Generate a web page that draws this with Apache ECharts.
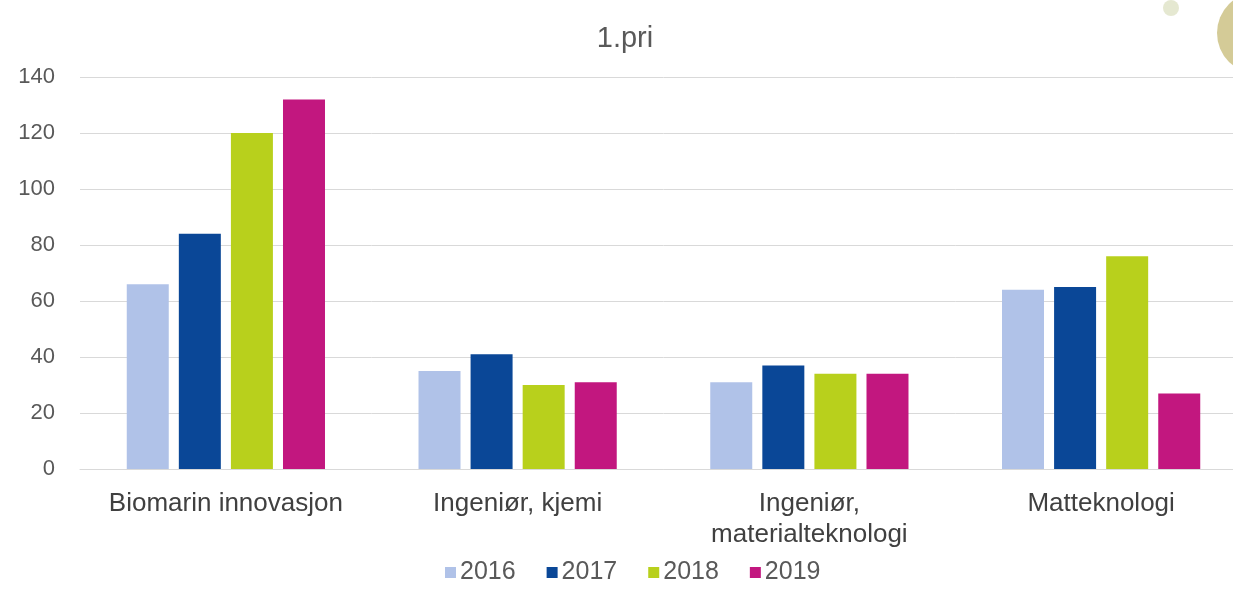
<!DOCTYPE html>
<html>
<head>
<meta charset="utf-8">
<script src="https://cdn.jsdelivr.net/npm/echarts@6/dist/echarts.min.js"></script>
<style>
  html, body { margin: 0; padding: 0; background: #fff; overflow: hidden; }
  /* diagrammet er beskåret til høyre i originalen, derfor bredere enn vinduet */
  #chart { width: 1250px; height: 592px; }
</style>
</head>
<body>
<div id="chart"></div>
<script>
// kategorier (studieprogram)
const categories = ['Biomarin innovasjon', 'Ingeniør, kjemi', 'Ingeniør,\nmaterialteknologi', 'Matteknologi'];
const years = ['2016', '2017', '2018', '2019'];

// antall 1.prioritetssøkere per år
const values2016 = [66, 35, 31, 64];
const values2017 = [84, 41, 37, 65];
const values2018 = [120, 30, 34, 76];
const values2019 = [132, 31, 34, 27];

const yearColors = ['#b0c2e8', '#0a4797', '#b8d01c', '#c2177f'];

const chart = echarts.init(document.getElementById('chart'));

const seriesData = [values2016, values2017, values2018, values2019];

const option = {
  animation: false,
  textStyle: { fontFamily: 'Liberation Sans, Arial, sans-serif' },
  title: {
    text: '1.pri',
    left: 'center',
    top: 19,
    textStyle: { fontSize: 29, fontWeight: 'normal', color: '#595959' }
  },
  legend: {
    data: years,
    bottom: 2,
    left: 440,
    itemWidth: 11,
    itemHeight: 11,
    itemGap: 31,
    icon: 'rect',
    textStyle: { fontSize: 25, color: '#595959', padding: [0, 0, 0, -1] }
  },
  grid: {
    left: 80,
    top: 77,
    width: 1167,
    height: 392
  },
  xAxis: {
    type: 'category',
    data: categories,
    axisLine: { lineStyle: { color: '#d9d9d9', width: 1 } },
    axisTick: { show: false },
    axisLabel: { interval: 0, fontSize: 26, color: '#404040', margin: 19, lineHeight: 31 }
  },
  yAxis: {
    type: 'value',
    min: 0,
    max: 140,
    interval: 20,
    axisLine: { show: false },
    axisTick: { show: false },
    axisLabel: { fontSize: 22, color: '#595959', margin: 25 },
    splitLine: { lineStyle: { color: '#d9d9d9', width: 1 } }
  },
  series: years.map((y, i) => ({
    name: y,
    type: 'bar',
    data: seriesData[i],
    barWidth: 42,
    barGap: '24%',
    itemStyle: { color: yearColors[i] }
  })),
  graphic: [
    {
      type: 'circle',
      shape: { cx: 1258, cy: 33, r: 41 },
      style: { fill: '#cdc285', opacity: 0.85 },
      z: -1
    },
    {
      type: 'circle',
      shape: { cx: 1171, cy: 8, r: 8 },
      style: { fill: '#dfe2c6', opacity: 0.8 },
      z: -1
    }
  ]
};

chart.setOption(option);
</script>
</body>
</html>
